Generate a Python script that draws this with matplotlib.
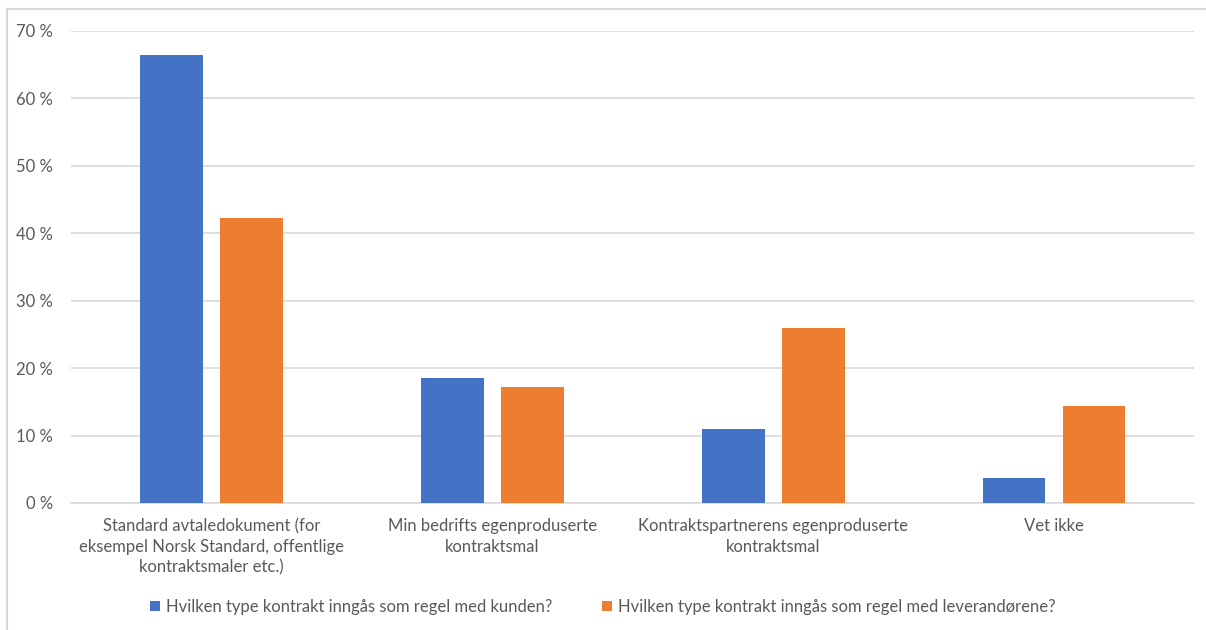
import numpy as np
import matplotlib.pyplot as plt
from matplotlib.lines import Line2D
from matplotlib.ticker import FuncFormatter

plt.rcParams['font.family'] = ['Lato', 'DejaVu Sans']

categories = ['Standard avtaledokument (for\neksempel Norsk Standard, offentlige\nkontraktsmaler etc.)',
              'Min bedrifts egenproduserte\nkontraktsmal',
              'Kontraktspartnerens egenproduserte\nkontraktsmal',
              'Vet ikke']
kunden = [0.664, 0.185, 0.110, 0.037]
leverandorene = [0.423, 0.172, 0.260, 0.144]
series_names = ['Hvilken type kontrakt inngås som regel med kunden?',
                'Hvilken type kontrakt inngås som regel med leverandørene?']

blue = '#4472C4'
orange = '#ED7D31'
grey_txt = '#595959'
grid_col = '#D9D9D9'

fig = plt.figure(figsize=(12.06, 6.30), dpi=100)
ax = fig.add_axes([0.0589, 0.2016, 0.9315, 0.7492])

x = np.arange(len(categories))
w = 0.224
ax.bar(x - 0.1425, kunden, w, color=blue, label=series_names[0], zorder=3)
ax.bar(x + 0.1425, leverandorene, w, color=orange, label=series_names[1], zorder=3)

ax.set_xlim(-0.5, len(categories) - 0.5)
ax.set_ylim(0, 0.7)
ax.set_yticks(np.arange(0, 0.71, 0.1))
ax.yaxis.set_major_formatter(FuncFormatter(lambda v, p: f'{v*100:.0f} %'))
ax.grid(axis='y', color=grid_col, linewidth=1.2, zorder=0)
for s in ['top', 'right', 'left']:
    ax.spines[s].set_visible(False)
ax.spines['bottom'].set_color(grid_col)
ax.spines['bottom'].set_linewidth(1.2)
ax.tick_params(axis='both', length=0, colors=grey_txt, labelsize=12)
ax.tick_params(axis='y', pad=13)
ax.tick_params(axis='x', pad=11)
ax.set_xticks(x)
ax.set_xticklabels(categories, linespacing=1.35)

leg = fig.legend(loc='center', bbox_to_anchor=(0.5, 1 - 607 / 630), ncol=2,
                 frameon=False, fontsize=12, handlelength=0.6, handleheight=0.6,
                 handletextpad=0.35, columnspacing=3.0, labelcolor=grey_txt)

# outer chart frame (top and left edge)
fig.add_artist(Line2D([7 / 1206, 1], [1 - 9 / 630, 1 - 9 / 630], color=grid_col, linewidth=1.5))
fig.add_artist(Line2D([7 / 1206, 7 / 1206], [0, 1 - 9 / 630], color=grid_col, linewidth=1.5))

fig.savefig('out.png', dpi=100)
